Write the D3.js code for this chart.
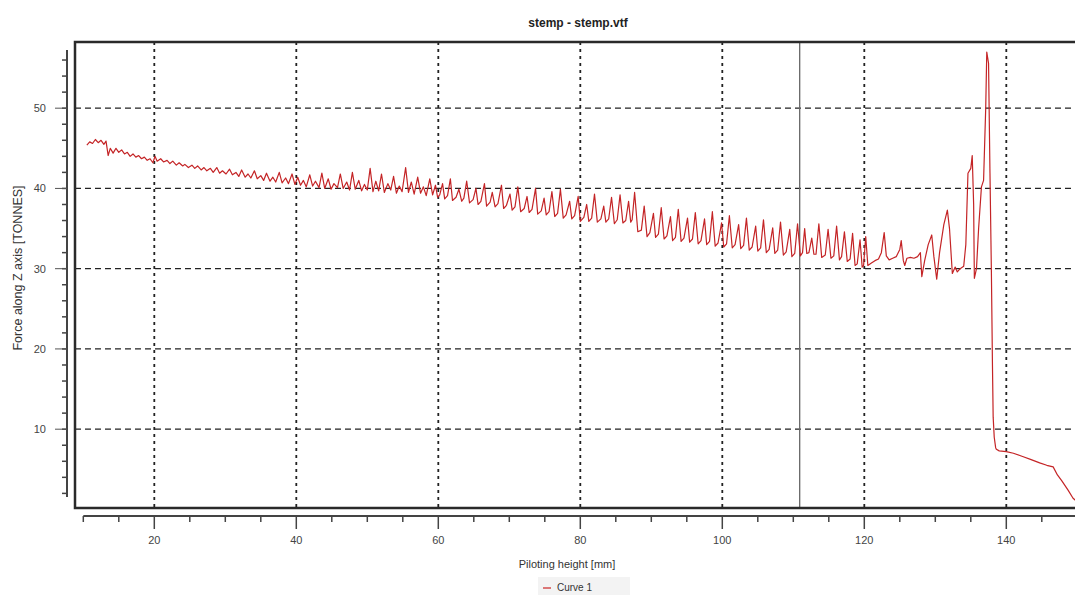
<!DOCTYPE html>
<meta charset="utf-8">
<style>
body{
  margin: 0px;
  background: white;
  font-family: "Liberation Sans", Arial, Helvetica, sans-serif;
}
svg{
  display: block;
}
.tick-label{
  font-size: 11px;
  fill: #444;
}
</style>
<body>
<div id='graph'></div>
<script src="https://cdn.jsdelivr.net/npm/d3@7"></script>
<script>

// piloting height [mm], force [tonnes]
var stableRun = [
  [10.5,45.4],[10.9,45.8],[11.3,45.6],[11.7,46.1],[12.1,45.7],[12.5,46.0],[12.9,45.5],[13.2,45.9],
  [13.5,44.1],[13.8,45.0],[14.2,44.4],[14.6,45.0],[15.0,44.5],[15.4,44.8],[15.8,44.3],[16.2,44.5],
  [16.6,44.0],[17.0,44.3],[17.4,43.9],[17.8,44.1],[18.2,43.7],[18.6,43.9],[19.0,43.5],[19.4,43.7],
  [19.8,43.2],[20.1,44.0],[20.4,43.4],[20.9,43.7],[21.3,43.3],[21.8,43.5],[22.2,43.1],[22.6,43.4],
  [23.1,42.9],[23.5,43.2],[24.0,42.8],[24.3,43.0],[24.8,42.6],[25.3,42.9],[25.7,42.5],[26.1,42.8],
  [26.6,42.3],[27.0,42.6],[27.4,42.2],[27.9,42.5],[28.3,42.0],[28.8,42.6],[29.2,41.9],[29.6,42.2],
  [30.1,41.8],[30.6,42.4],[31.0,41.7],[31.5,42.0],[31.9,41.5],[32.3,42.3],[32.8,41.4],[33.2,41.8],
  [33.6,41.3],[34.1,42.2],[34.5,41.2],[35.0,41.6],[35.4,41.0],[35.8,41.9],[36.3,40.9],[36.7,41.4],
  [37.1,40.8],[37.6,42.0],[38.0,40.7],[38.5,41.3],[38.9,40.6],[39.4,41.8],[39.8,40.5],
  [40.2,41.4],[40.6,40.4],[41.0,41.0],[41.4,40.2],[41.9,41.7],[42.3,40.3],[42.7,40.9],[43.2,40.1],
  [43.6,41.9],[44.0,40.0],[44.5,41.2],[44.9,39.9],[45.3,40.6],[45.8,40.1],[46.2,41.8],[46.6,40.0],
  [47.1,40.8],[47.5,39.8],[47.9,42.0],[48.3,39.9],[48.8,41.0],[49.2,39.7],[49.6,40.5],[50.0,39.8],
  [50.4,42.5],[50.8,39.6],[51.2,40.9],[51.6,39.7],[52.0,41.8],[52.4,39.5],[52.9,40.6],[53.3,39.8],
  [53.7,41.5],[54.1,39.4],[54.5,40.3],[54.9,39.6],[55.4,42.6],[55.8,39.5],[56.2,40.8],[56.6,39.3],
  [57.1,41.4],[57.5,39.4],[57.9,40.2],[58.3,39.1],[58.8,41.2],[59.2,39.2],[59.6,40.4],[59.9,38.9]
]

var spikyRun = [
  [60.2,39.2],[60.6,40.6],[60.9,38.7],[61.3,39.1],[61.7,41.2],[62.0,38.5],
  [62.5,38.9],[62.9,39.9],[63.3,38.4],[63.6,38.8],[64.0,40.9],[64.4,38.2],
  [64.9,38.6],[65.3,40.0],[65.6,38.0],[66.0,38.4],[66.5,40.6],[66.8,37.8],
  [67.3,38.3],[67.6,39.5],[68.0,37.7],[68.4,38.1],[68.9,40.4],[69.2,37.5],
  [69.6,37.9],[70.1,39.3],[70.4,37.3],[70.8,37.7],[71.2,40.2],[71.6,37.1],
  [72.1,37.5],[72.5,39.0],[72.8,37.0],[73.2,37.4],[73.7,40.0],[74.0,36.8],
  [74.5,37.2],[74.9,38.8],[75.2,36.7],[75.6,37.1],[76.0,39.6],[76.4,36.5],
  [76.8,36.9],[77.2,39.9],[77.6,36.3],[78.0,36.7],[78.5,38.4],[78.8,36.2],
  [79.2,36.6],[79.7,39.0],[80.0,35.9],[80.5,36.4],[80.9,38.0],[81.2,35.9],
  [81.6,36.3],[82.0,39.3],[82.4,35.8],[82.9,36.2],[83.3,37.8],[83.6,35.8],
  [84.0,36.2],[84.4,38.9],[84.8,35.6],[85.2,36.1],[85.6,39.2],[86.0,35.7],
  [86.4,36.0],[86.8,38.4],[87.1,35.8],[87.3,36.1],[87.65,39.5],[88.1,34.6],
  [88.6,34.8],[89.0,37.8],[89.4,34.0],[89.8,34.5],[90.3,36.9],[90.6,33.9],
  [91.0,34.3],[91.4,37.6],[91.8,33.7],[92.2,34.1],[92.7,36.5],[93.0,33.5],
  [93.4,33.9],[93.8,37.4],[94.2,33.4],[94.6,33.8],[95.1,36.3],[95.4,33.3],
  [95.8,33.7],[96.2,37.0],[96.6,33.1],[97.0,33.5],[97.5,36.2],[97.8,33.0],
  [98.2,33.4],[98.6,37.1],[99.0,32.8],[99.4,33.2],[99.9,35.7],[100.2,32.7],
  [100.6,33.1],[101.0,36.6],[101.4,32.6],[101.8,33.0],[102.3,35.5],[102.6,32.5],
  [103.0,32.9],[103.4,36.3],[103.8,32.3],[104.2,32.7],[104.7,35.3],[105.0,32.2],
  [105.4,32.6],[105.8,36.1],[106.2,32.0],[106.6,32.4],[107.1,35.1],[107.4,31.9],
  [107.8,32.3],[108.2,35.8],[108.6,31.7],[109.0,32.1],[109.5,34.9],[109.8,31.5],
  [110.2,31.9],[110.6,35.6],[111.0,31.6],[111.3,32.0],[111.6,35.0],[111.9,31.9],
  [112.2,32.0],[112.6,33.8],[112.9,31.8],[113.2,31.8],[113.6,35.6],[114.0,31.4],
  [114.5,31.7],[114.9,34.9],[115.3,31.3],[115.7,31.6],[116.1,35.3],[116.5,31.1],
  [116.8,31.5],[117.2,34.6],[117.6,30.9],[118.0,31.2],[118.35,34.4],[118.7,30.4],
  [119.0,30.6],[119.4,33.6],[119.7,30.2],[119.9,30.4],[120.2,34.0],[120.5,30.4],
  [121.0,30.7],[121.5,31.0],[122.0,31.2],[122.4,32.0],[122.8,34.5],[123.1,31.6],
  [123.5,31.1],[124.0,31.3],[124.5,31.5],[125.0,32.4],[125.2,33.5],[125.5,31.0],
  [125.7,30.4],[126.0,31.3],[126.5,31.4],[127.0,31.3],[127.5,31.5],[127.9,32.0]
]

var burst = [
  [128.1,29.0],[128.5,31.0],[129.0,33.0],[129.5,34.2],[129.8,31.5],[130.2,28.7],
  [130.6,32.0],[131.2,35.5],[131.7,37.3],[132.0,35.0],[132.4,29.4],[132.8,30.2],
  [133.1,29.6],[133.5,30.0],[134.0,30.3],[134.3,33.0],[134.6,41.9],[135.0,42.5],
  [135.2,44.1],[135.4,38.0],[135.5,28.8],[135.8,30.0],[136.1,35.0],[136.5,40.2],
  [136.8,41.0],[137.1,50.0],[137.25,57.0],[137.5,55.6],[137.7,42.0],[137.9,29.6]
]

var release = [
  [138.05,18.0],[138.15,11.5],[138.3,9.0],[138.5,7.7],[138.6,7.5],[139.0,7.3],
  [140.0,7.2],[141.0,7.0],[142.3,6.6],[143.5,6.2],[144.7,5.8],[145.7,5.5],
  [146.6,5.3],[147.2,4.3],[147.8,3.6],[148.7,2.4],[149.4,1.4],[149.8,1.1]
]

var curve = stableRun.concat(spikyRun, burst, release)

var xMajor = [20, 40, 60, 80, 100, 120, 140]
var yMajor = [10, 20, 30, 40, 50]
var cursorHeight = 110.9

var width = 1075,
    height = 595

var svg = d3.select('#graph')
  .append('svg')
    .attr('width', width)
    .attr('height', height)

var x = d3.scaleLinear().domain([10, 150]).range([83.3, 1077.3])
var y = d3.scaleLinear().domain([1.55, 57.25]).range([497, 50])

var frame = {left: 75, top: 42, right: 1080, bottom: 508}

// grid
svg.append('g').selectAll('line')
    .data(yMajor)
  .enter().append('line')
    .attr('x1', frame.left).attr('x2', frame.right)
    .attr('y1', d => y(d)).attr('y2', d => y(d))
    .style('stroke', '#222')
    .style('stroke-width', 1.3)
    .style('stroke-dasharray', '6,4')

svg.append('g').selectAll('line')
    .data(xMajor)
  .enter().append('line')
    .attr('x1', d => x(d)).attr('x2', d => x(d))
    .attr('y1', frame.top).attr('y2', frame.bottom)
    .style('stroke', '#222')
    .style('stroke-width', 1.8)
    .style('stroke-dasharray', '3,4')

// cursor
svg.append('line')
    .attr('x1', x(cursorHeight)).attr('x2', x(cursorHeight))
    .attr('y1', frame.top).attr('y2', frame.bottom)
    .style('stroke', '#666')
    .style('stroke-width', 1.3)

// curve
var line = d3.line()
    .x(d => x(d[0]))
    .y(d => y(d[1]))

svg.append('path')
    .datum(curve)
    .attr('d', line)
    .style('fill', 'none')
    .style('stroke', '#c42426')
    .style('stroke-width', 1.2)
    .style('stroke-linejoin', 'round')

// frame
svg.append('path')
    .attr('d', 'M' + frame.right + ',' + frame.top + 'H' + frame.left + 'V' + frame.bottom + 'H' + frame.right)
    .style('fill', 'none')
    .style('stroke', '#2a2a2a')
    .style('stroke-width', 2.5)

// y axis
var yAxis = svg.append('g')
yAxis.append('line')
    .attr('x1', 67).attr('x2', 67)
    .attr('y1', 50).attr('y2', 497)
    .style('stroke', '#444')
    .style('stroke-width', 2)

yAxis.selectAll('.minor')
    .data(d3.range(2, 57, 2))
  .enter().append('line')
    .attr('class', 'minor')
    .attr('x1', 62).attr('x2', 67)
    .attr('y1', d => y(d)).attr('y2', d => y(d))
    .style('stroke', '#444')
    .style('stroke-width', 1.5)

yAxis.selectAll('.major')
    .data(yMajor)
  .enter().append('line')
    .attr('class', 'major')
    .attr('x1', 55).attr('x2', 67)
    .attr('y1', d => y(d)).attr('y2', d => y(d))
    .style('stroke', '#555')
    .style('stroke-width', 1)

yAxis.selectAll('text')
    .data(yMajor)
  .enter().append('text')
    .attr('class', 'tick-label')
    .attr('x', 46)
    .attr('y', d => y(d) + 4)
    .attr('text-anchor', 'end')
    .text(d => d)

// x axis
var xAxis = svg.append('g')
xAxis.append('line')
    .attr('x1', x(10)).attr('x2', width)
    .attr('y1', 516).attr('y2', 516)
    .style('stroke', '#444')
    .style('stroke-width', 2)

xAxis.selectAll('.minor')
    .data(d3.range(10, 151, 5))
  .enter().append('line')
    .attr('class', 'minor')
    .attr('x1', d => x(d)).attr('x2', d => x(d))
    .attr('y1', 516).attr('y2', d => d % 20 == 0 ? 529 : 522)
    .style('stroke', '#444')
    .style('stroke-width', 1.5)

xAxis.selectAll('text')
    .data(xMajor)
  .enter().append('text')
    .attr('class', 'tick-label')
    .attr('x', d => x(d))
    .attr('y', 544)
    .attr('text-anchor', 'middle')
    .text(d => d)

// titles
svg.append('text')
    .attr('x', 578).attr('y', 27)
    .attr('text-anchor', 'middle')
    .style('font-size', '12px')
    .style('font-weight', 'bold')
    .style('fill', '#222')
    .text('stemp - stemp.vtf')

svg.append('text')
    .attr('x', 567).attr('y', 568)
    .attr('text-anchor', 'middle')
    .style('font-size', '11px')
    .style('fill', '#333')
    .text('Piloting height [mm]')

svg.append('text')
    .attr('transform', 'translate(22,268) rotate(-90)')
    .attr('text-anchor', 'middle')
    .style('font-size', '12.5px')
    .style('fill', '#333')
    .text('Force along Z axis [TONNES]')

// legend
var legend = svg.append('g').attr('transform', 'translate(538,577)')
legend.append('rect')
    .attr('width', 92).attr('height', 18)
    .style('fill', '#f3f3f3')
legend.append('line')
    .attr('x1', 5).attr('x2', 13)
    .attr('y1', 11).attr('y2', 11)
    .style('stroke', '#cc2424')
    .style('stroke-width', 1.2)
legend.append('text')
    .attr('x', 19).attr('y', 14)
    .style('font-size', '10px')
    .style('fill', '#333')
    .text('Curve 1')

</script>
